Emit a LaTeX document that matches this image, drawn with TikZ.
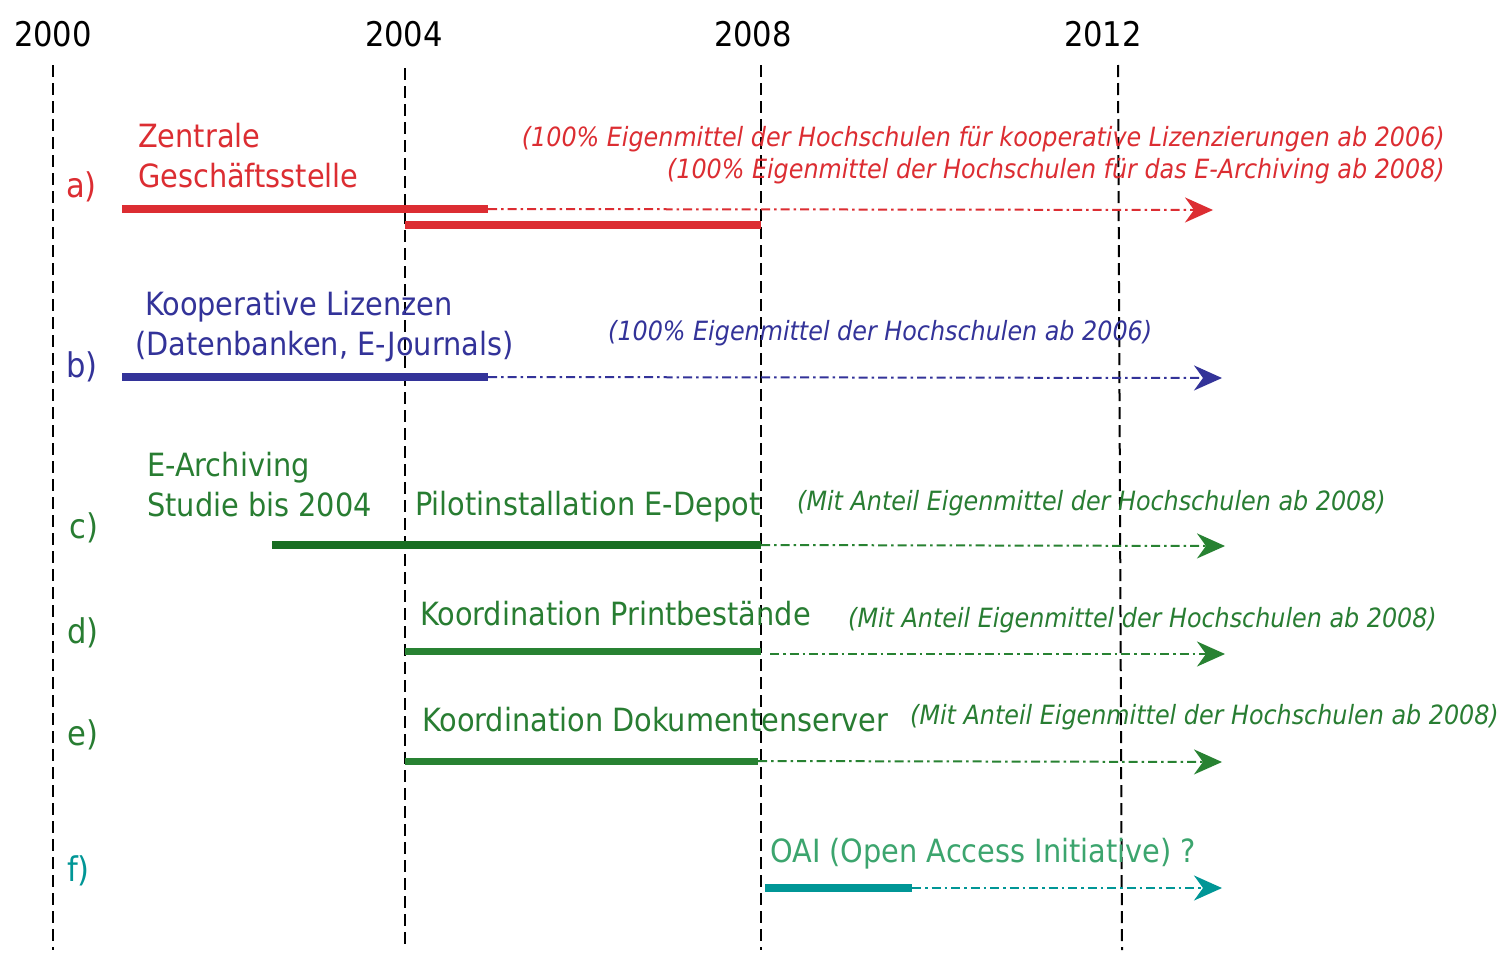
\documentclass[tikz,border=0pt]{standalone}
\usepackage{fontspec}
\setmainfont{DejaVu Sans Condensed}
\usepackage{tikz}
\usetikzlibrary{arrows.meta}
\definecolor{zred}{RGB}{220,45,50}
\definecolor{kblue}{RGB}{51,51,153}
\definecolor{egreen}{RGB}{25,110,35}
\definecolor{kgreen}{RGB}{40,130,50}
\definecolor{tgreen}{RGB}{40,125,50}
\definecolor{oteal}{RGB}{0,150,150}
\definecolor{otext}{RGB}{60,165,110}
\tikzset{>/.tip={Stealth[length=28bp,width=25bp,inset=9bp]},
  yearline/.style={black, line width=2bp, dash pattern=on 12bp off 6bp},
  bar/.style={line width=8.5bp},
  plan/.style={->, line width=2bp, dash pattern=on 9bp off 4bp on 2.5bp off 4bp},
  year/.style={anchor=base, inner sep=0pt, font=\fontsize{34bp}{40bp}\selectfont},
  row/.style={anchor=base west, inner sep=0pt, font=\fontsize{34bp}{40bp}\selectfont},
  lbl/.style={anchor=base west, inner sep=0pt, font=\fontsize{32bp}{38bp}\selectfont},
  note/.style={anchor=base west, inner sep=0pt, font=\fontsize{26.5bp}{31bp}\selectfont\itshape}}

\begin{document}
\begin{tikzpicture}[x=1bp, y=-1bp]
\fill[white] (0,0) rectangle (1498,954);
\useasboundingbox (0,0) rectangle (1498,954);

\node[year] (Y2000) at (53,46) {2000};
\node[year] (Y2004) at (404,46) {2004};
\node[year] (Y2008) at (753,46) {2008};
\node[year] (Y2012) at (1103,46) {2012};

\coordinate (T2000) at (53,65);    \coordinate (B2000) at (53,950);
\coordinate (T2004) at (405,68);   \coordinate (B2004) at (405,950);
\coordinate (T2008) at (761,65);   \coordinate (B2008) at (761,950);
\coordinate (T2012) at (1118,65);  \coordinate (B2012) at (1122,950);

\draw[yearline] (T2000) -- (B2000);
\draw[yearline] (T2004) -- (B2004);
\draw[yearline] (T2008) -- (B2008);
\draw[yearline] (T2012) -- (B2012);

\node[row, zred] (a) at (66,197) {a)};
\node[lbl, zred] (a-1) at (138,147) {Zentrale};
\node[lbl, zred] (a-2) at (138,187) {Geschäftsstelle};
\node[note, zred, anchor=base east] (a-n1) at (1445,146) {(100\% Eigenmittel der Hochschulen für kooperative Lizenzierungen ab 2006)};
\node[note, zred, anchor=base east] (a-n2) at (1445,178) {(100\% Eigenmittel der Hochschulen für das E-Archiving ab 2008)};
\coordinate (a-s) at (122,209);   \coordinate (a-m) at (488,209);   \coordinate (a-e) at (1213,210);
\coordinate (a2-s) at (405,225);  \coordinate (a2-e) at (761,225);
\draw[bar, zred] (a-s) -- (a-m);
\draw[bar, zred] (a2-s) -- (a2-e);
\draw[plan, zred] (a-m) -- (a-e);

\node[row, kblue] (b) at (66,377) {b)};
\node[lbl, kblue] (b-1) at (145,315) {Kooperative Lizenzen};
\node[lbl, kblue] (b-2) at (135,355) {(Datenbanken, E-Journals)};
\node[note, kblue] (b-n) at (608,340) {(100\% Eigenmittel der Hochschulen ab 2006)};
\coordinate (b-s) at (122,377);   \coordinate (b-m) at (488,377);   \coordinate (b-e) at (1222,378);
\draw[bar, kblue] (b-s) -- (b-m);
\draw[plan, kblue] (b-m) -- (b-e);

\node[row, tgreen] (c) at (69,538) {c)};
\node[lbl, tgreen] (c-1) at (147,476) {E-Archiving};
\node[lbl, tgreen] (c-2) at (147,516) {Studie bis 2004};
\node[lbl, tgreen] (c-3) at (415,515) {Pilotinstallation E-Depot};
\node[note, tgreen] (c-n) at (797,510) {(Mit Anteil Eigenmittel der Hochschulen ab 2008)};
\coordinate (c-s) at (272,545);   \coordinate (c-m) at (761,545);   \coordinate (c-e) at (1225,546);
\draw[bar, egreen] (c-s) -- (c-m);
\draw[plan, kgreen] (c-m) -- (c-e);

\node[row, tgreen] (d) at (67,643) {d)};
\node[lbl, tgreen] (d-1) at (420,625) {Koordination Printbestände};
\node[note, tgreen] (d-n) at (848,627) {(Mit Anteil Eigenmittel der Hochschulen ab 2008)};
\coordinate (d-s) at (405,651);   \coordinate (d-m) at (761,651);
\coordinate (d-d) at (770,654);   \coordinate (d-e) at (1225,654);
\draw[bar, kgreen, line width=7bp] (d-s) -- (d-m);
\draw[plan, kgreen] (d-d) -- (d-e);

\node[row, tgreen] (e) at (67,745) {e)};
\node[lbl, tgreen] (e-1) at (422,731) {Koordination Dokumentenserver};
\node[note, tgreen] (e-n) at (910,724) {(Mit Anteil Eigenmittel der Hochschulen ab 2008)};
\coordinate (e-s) at (405,761);   \coordinate (e-m) at (758,761);   \coordinate (e-e) at (1222,762);
\draw[bar, kgreen, line width=7bp] (e-s) -- (e-m);
\draw[plan, kgreen] (e-m) -- (e-e);

\node[row, oteal] (f) at (67,881) {f)};
\node[lbl, otext] (f-1) at (770,862) {OAI (Open Access Initiative) ?};
\coordinate (f-s) at (765,888);   \coordinate (f-m) at (912,888);   \coordinate (f-e) at (1222,888);
\draw[bar, oteal] (f-s) -- (f-m);
\draw[plan, oteal] (f-m) -- (f-e);
\end{tikzpicture}
\end{document}
